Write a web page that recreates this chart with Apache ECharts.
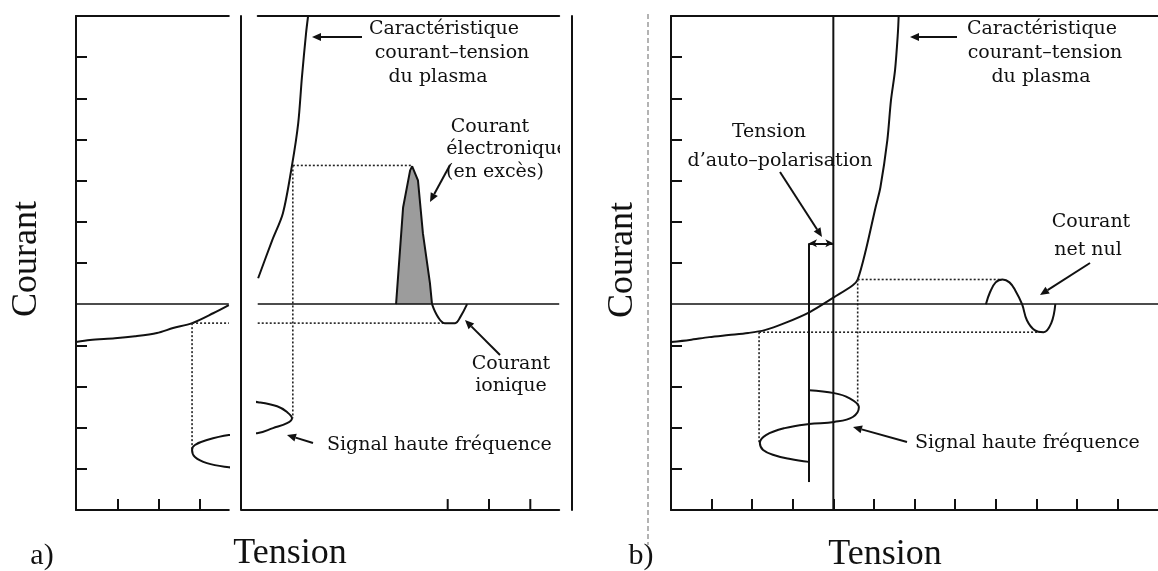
<!DOCTYPE html>
<html>
<head>
<meta charset="UTF-8">
<script src="https://cdn.jsdelivr.net/npm/echarts@6.0.0/dist/echarts.min.js"></script>
<style>
	body { margin: 0; padding: 0; background: #fff; }
	#chart { width: 1158px; height: 571px; }
</style>
</head>
<body>
<div id="chart"></div>
<script>
	// unités : x = tension (graduations), y = courant (graduations), 0 = courant nul
	// a) caractéristique courant-tension, de part et d'autre de la coupure
	var caracA_gauche = [[0, -0.92], [0.34, -0.87], [0.94, -0.83], [1.43, -0.78], [1.96, -0.70], [2.35, -0.58], [2.81, -0.46], [3.32, -0.22], [3.70, -0.02]];
	var caracA_droite = [[4.41, 0.63], [4.75, 1.55], [5.01, 2.21], [5.23, 3.37], [5.38, 4.39], [5.47, 5.51], [5.57, 6.58], [5.62, 7.0]];
	// a) signal haute fréquence (temps vers le bas)
	var signalA = [[4.02, -2.35], [4.41, -2.38], [4.87, -2.48], [5.11, -2.62], [5.23, -2.77], [5.11, -2.89], [4.77, -3.01], [4.41, -3.13],
		[3.70, -3.18], [3.17, -3.30], [2.88, -3.42], [2.81, -3.54], [2.88, -3.71], [3.17, -3.86], [3.70, -3.96], [4.02, -3.98]];
	// a) courant électronique (en excès) et courant ionique
	var courantElecA = [[7.75, 0], [7.92, 2.35], [8.09, 3.25], [8.14, 3.35], [8.28, 3.01], [8.40, 1.72], [8.57, 0.51], [8.62, 0]];
	var courantIonA = [[8.62, 0], [8.77, -0.32], [8.93, -0.46], [9.18, -0.46], [9.30, -0.32], [9.47, 0]];
	// a) niveaux de report
	var vMinA = 2.81, vMaxA = 5.25, iMaxA = 3.37, iMinA = -0.46;

	// b) caractéristique courant-tension
	var caracB = [[0, -0.92], [0.46, -0.87], [0.94, -0.80], [1.42, -0.75], [1.90, -0.70], [2.31, -0.63], [2.80, -0.46], [3.42, -0.19],
		[4.02, 0.17], [4.48, 0.46], [4.60, 0.60], [4.80, 1.31], [5.04, 2.35], [5.16, 2.84], [5.33, 3.98], [5.42, 4.95], [5.52, 5.68], [5.59, 6.58], [5.61, 7.0]];
	// b) signal haute fréquence centré sur la tension d'auto-polarisation
	var signalB = [[3.40, -2.09], [4.02, -2.16], [4.39, -2.28], [4.63, -2.50], [4.48, -2.74], [4.02, -2.86], [3.40, -2.91], [2.80, -3.01],
		[2.34, -3.18], [2.19, -3.37], [2.27, -3.54], [2.55, -3.67], [2.94, -3.76], [3.40, -3.83]];
	// b) courant net nul
	var courantB = [[7.76, 0], [7.86, 0.29], [8.0, 0.53], [8.17, 0.60], [8.34, 0.53], [8.48, 0.34], [8.65, 0], [8.77, -0.39], [8.96, -0.63], [9.18, -0.68], [9.37, -0.46], [9.47, 0]];
	var vMinB = 2.17, vMaxB = 4.60, iMaxB = 0.60, iMinB = -0.68;
	var vPlasmaB = 4.0, vAutoB = 3.4, iAutoB = 1.48, basAutoB = -4.32;

	// graduations
	var ticksY = [-4, -3, -2, -1, 1, 2, 3, 4, 5, 6];
	var ticksXA_g = [1, 2, 3];
	var ticksXA_d = [9, 10, 11];
	var ticksXB = [1, 2, 3, 4, 5, 6, 7, 8, 9, 10, 11];

	var UA = 41.3, UB = 41.5, UY = 41.17;
	var NOIR = '#111';

	function axeX(grid, min, max, ticks, pos) {
		return {
			type: 'value', gridIndex: grid, min: min, max: max, interval: 1, position: pos,
			axisLine: { show: true, onZero: false, lineStyle: { color: NOIR, width: 2 } },
			axisTick: { show: !!ticks, inside: true, length: 11, customValues: ticks || undefined, lineStyle: { color: NOIR, width: 2 } },
			axisLabel: { show: false }, splitLine: { show: false }
		};
	}
	function axeY(grid, ticks, pos, offset) {
		return {
			type: 'value', gridIndex: grid, min: -5, max: 7, interval: 1, position: pos, offset: offset || 0,
			axisLine: { show: true, onZero: false, lineStyle: { color: NOIR, width: 2 } },
			axisTick: { show: !!ticks, inside: true, length: 11, customValues: ticks || undefined, lineStyle: { color: NOIR, width: 2 } },
			axisLabel: { show: false }, splitLine: { show: false }
		};
	}
	function trace(xi, yi, data, opts) {
		opts = opts || {};
		var s = {
			type: 'line', xAxisIndex: xi, yAxisIndex: yi, data: data, symbol: 'none', silent: true,
			smooth: opts.smooth || false,
			lineStyle: { color: opts.color || NOIR, width: opts.width || 2, type: opts.type || 'solid' }
		};
		if (opts.area) s.areaStyle = { color: opts.area, opacity: 1 };
		return s;
	}
	function pointille(xi, yi, data) {
		return trace(xi, yi, data, { type: [2, 2], width: 1.6, color: '#222' });
	}
	function zero(xi, yi) {
		return {
			type: 'line', xAxisIndex: xi, yAxisIndex: yi, data: [], silent: true,
			markLine: { symbol: 'none', silent: true, label: { show: false }, lineStyle: { color: NOIR, width: 1.6, type: 'solid' }, data: [{ yAxis: 0 }] }
		};
	}
	// graduations du bas dessinées sur l'échelle de l'axe (partie droite de a)
	function graduations(xi, yi, valeurs) {
		return {
			type: 'custom', xAxisIndex: xi, yAxisIndex: yi, silent: true, clip: false,
			data: valeurs.map(function (v) { return [v, 0]; }),
			renderItem: function (params, api) {
				var p = api.coord([api.value(0), -5]);
				return { type: 'line', shape: { x1: p[0], y1: p[1], x2: p[0], y2: p[1] - 11 }, style: { stroke: NOIR, lineWidth: 2 } };
			}
		};
	}

	var fontAnn = '19px "DejaVu Serif"';
	var fontGros = '36px "Liberation Serif"';
	function texte(t, x, y, font, align, rot) {
		return {
			type: 'text', x: x, y: y, rotation: rot || 0, z: 10,
			style: { text: t, font: font, fill: '#111', textAlign: align || 'center', textVerticalAlign: 'middle' }
		};
	}
	function fleche(x1, y1, x2, y2) {
		var a = Math.atan2(y2 - y1, x2 - x1), L = 9, W = 4;
		var bx = x2 - L * Math.cos(a), by = y2 - L * Math.sin(a);
		return [
			{ type: 'line', z: 10, shape: { x1: x1, y1: y1, x2: bx, y2: by }, style: { stroke: NOIR, lineWidth: 2 } },
			{ type: 'polygon', z: 10, shape: { points: [[x2, y2], [bx + W * Math.sin(a), by - W * Math.cos(a)], [bx - W * Math.sin(a), by + W * Math.cos(a)]] }, style: { fill: NOIR } }
		];
	}

	var chart = echarts.init(document.getElementById('chart'));

	var graphiques = [
		texte('Courant', 27, 259, fontGros, 'center', Math.PI / 2),
		texte('Courant', 623, 260, fontGros, 'center', Math.PI / 2),
		texte('Tension', 290, 554, fontGros),
		texte('Tension', 885, 555, fontGros),
		texte('a)', 42, 556, '30px "Liberation Serif"'),
		texte('b)', 641, 556, '30px "Liberation Serif"'),

		texte('Caractéristique', 444, 29, fontAnn),
		texte('courant–tension', 452, 53, fontAnn),
		texte('du plasma', 438, 77, fontAnn),
		texte('Courant', 490, 127, fontAnn),
		texte('électronique', 507, 149, fontAnn),
		texte('(en excès)', 495, 172, fontAnn),
		texte('Courant', 511, 364, fontAnn),
		texte('ionique', 511, 386, fontAnn),
		texte('Signal haute fréquence', 327, 445, fontAnn, 'left'),

		texte('Caractéristique', 1042, 29, fontAnn),
		texte('courant–tension', 1045, 53, fontAnn),
		texte('du plasma', 1041, 77, fontAnn),
		texte('Tension', 769, 132, fontAnn),
		texte('d’auto–polarisation', 780, 161, fontAnn),
		texte('Courant', 1091, 222, fontAnn),
		texte('net nul', 1088, 250, fontAnn),
		texte('Signal haute fréquence', 915, 443, fontAnn, 'left'),

		// texte coupé par le bord du cadre a)
		{ type: 'rect', z: 11, shape: { x: 560, y: 136, width: 11, height: 26 }, style: { fill: '#fff' } },
		// trait pointillé gris du scan
		{ type: 'line', z: 5, shape: { x1: 648, y1: 14, x2: 648, y2: 545 }, style: { stroke: '#9a9a9a', lineWidth: 1.5, lineDash: [5, 3] } },
		// morceau de l'axe bas après la coupure
		{ type: 'line', z: 5, shape: { x1: 241, y1: 510, x2: 259, y2: 510 }, style: { stroke: NOIR, lineWidth: 2 } }
	];
	graphiques = graphiques
		.concat(fleche(362, 37, 312, 37))
		.concat(fleche(450, 165, 430, 202))
		.concat(fleche(500, 355, 465, 320))
		.concat(fleche(313, 443, 287, 435))
		.concat(fleche(957, 37, 910, 37))
		.concat(fleche(780, 172, 822, 237))
		.concat(fleche(1090, 263, 1040, 295))
		.concat(fleche(907, 442, 853, 427));

	var option = {
		animation: false,
		backgroundColor: '#fff',
		grid: [
			{ left: 76, top: 16, width: 3.7 * UA, height: 12 * UY },
			{ left: 76 + 4.4 * UA, top: 16, width: 7.3 * UA, height: 12 * UY },
			{ left: 671, top: 16, width: 12 * UB, height: 12 * UY }
		],
		xAxis: [
			axeX(0, 0, 3.7, ticksXA_g, 'bottom'),
			axeX(0, 0, 3.7, null, 'top'),
			axeX(1, 4.4, 11.7, null, 'bottom'),
			axeX(1, 4.4, 11.7, null, 'top'),
			axeX(2, 0, 12, ticksXB, 'bottom'),
			axeX(2, 0, 12, null, 'top')
		],
		yAxis: [
			axeY(0, ticksY, 'left'),
			axeY(1, null, 'left', 17),
			axeY(1, null, 'right', 13),
			axeY(2, ticksY, 'left')
		],
		series: [
			// a) partie gauche
			zero(0, 0),
			trace(0, 0, caracA_gauche, { smooth: 0.3 }),
			pointille(0, 0, [[vMinA, iMinA], [3.7, iMinA]]),
			pointille(0, 0, [[vMinA, iMinA], [vMinA, -3.54]]),
			trace(0, 0, signalA, { smooth: 0.4 }),
			// a) partie droite
			zero(2, 1),
			graduations(2, 1, ticksXA_d),
			trace(2, 1, caracA_droite, { smooth: 0.3 }),
			pointille(2, 1, [[4.4, iMinA], [8.93, iMinA]]),
			pointille(2, 1, [[vMaxA, iMaxA], [vMaxA, -2.77]]),
			pointille(2, 1, [[vMaxA, iMaxA], [8.14, iMaxA]]),
			trace(2, 1, courantElecA, { area: '#9c9c9c' }),
			trace(2, 1, courantIonA, { smooth: 0.4 }),
			trace(2, 1, signalA, { smooth: 0.4 }),
			// b)
			zero(4, 3),
			trace(4, 3, caracB, { smooth: 0.3 }),
			pointille(4, 3, [[vMaxB, iMaxB], [8.1, iMaxB]]),
			pointille(4, 3, [[vMinB, iMinB], [9.1, iMinB]]),
			pointille(4, 3, [[vMinB, iMinB], [vMinB, -3.37]]),
			pointille(4, 3, [[vMaxB, iMaxB], [vMaxB, -2.50]]),
			trace(4, 3, [[vPlasmaB, -5], [vPlasmaB, 7]]),
			trace(4, 3, [[vAutoB, iAutoB], [vAutoB, basAutoB]]),
			{
				type: 'line', xAxisIndex: 4, yAxisIndex: 3, data: [], silent: true,
				markLine: {
					symbol: ['arrow', 'arrow'], symbolSize: [6, 8], silent: true, label: { show: false },
					lineStyle: { color: NOIR, width: 2, type: 'solid' },
					data: [[{ coord: [vAutoB, iAutoB] }, { coord: [vPlasmaB, iAutoB] }]]
				}
			},
			trace(4, 3, signalB, { smooth: 0.4 }),
			trace(4, 3, courantB, { smooth: 0.4 })
		],
		graphic: { elements: graphiques }
	};
	chart.setOption(option);
</script>
</body>
</html>
